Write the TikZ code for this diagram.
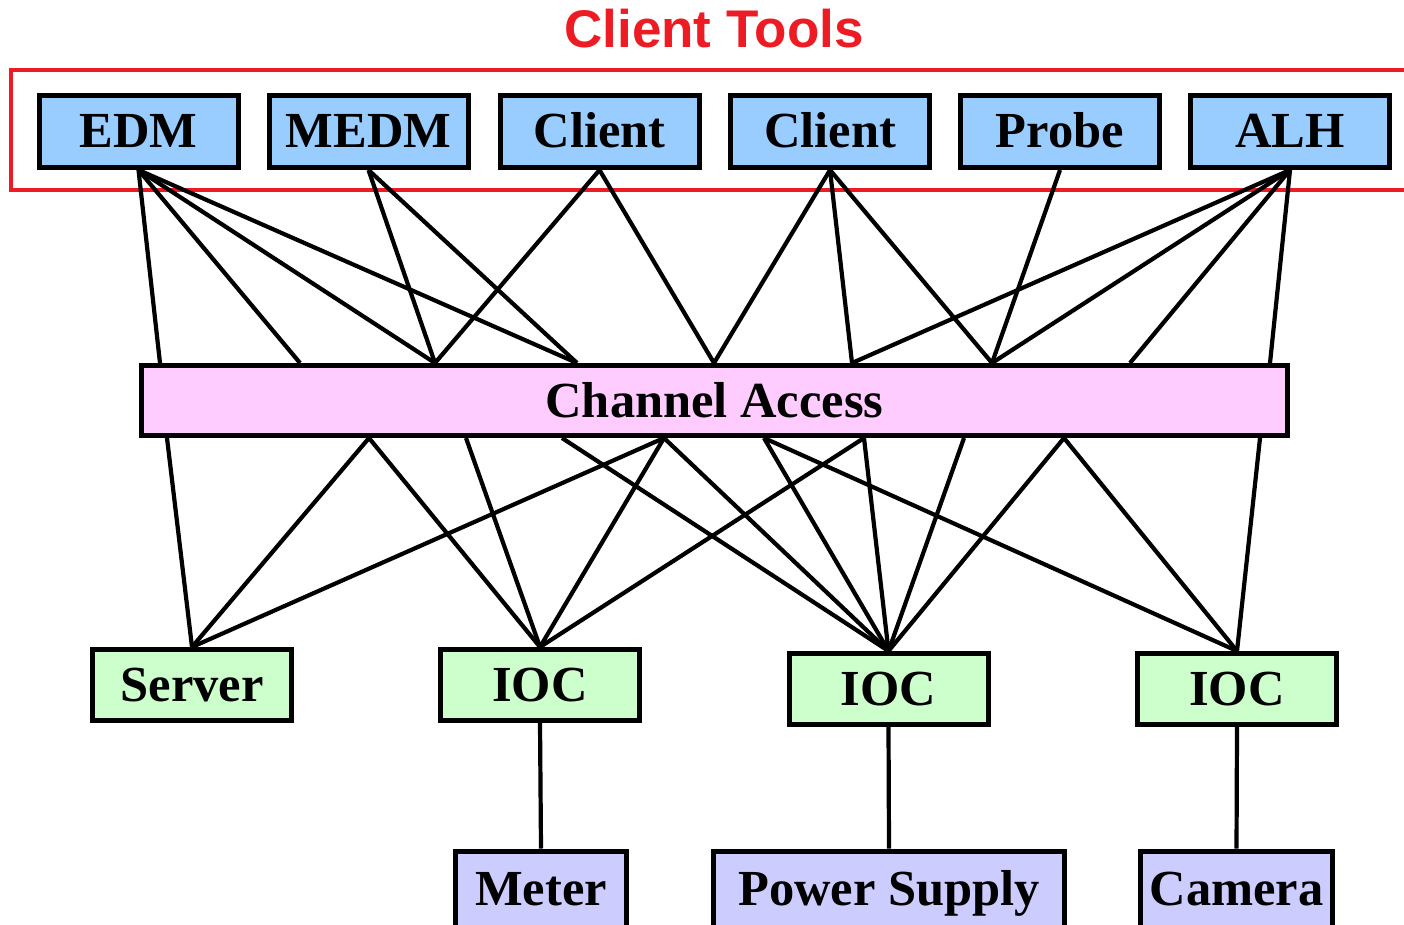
\documentclass[tikz,border=0pt]{standalone}
\usepackage{fontspec}
\setmainfont{Liberation Serif}
\newfontfamily\titlefont{Liberation Sans}
\definecolor{toolred}{HTML}{ED1C24}
\definecolor{toolblue}{HTML}{99CCFF}
\definecolor{capink}{HTML}{FFCCFF}
\definecolor{iocgreen}{HTML}{CCFFCC}
\definecolor{devlav}{HTML}{CCCCFF}
\begin{document}
\begin{tikzpicture}[x=1pt,y=-1pt,
  box/.style={draw=black,line width=5pt,inner sep=0pt,minimum height=71pt,
    text height=34pt,text depth=1pt,
    font=\fontsize{50.5}{58}\selectfont\bfseries},
  toolbox/.style={box,fill=toolblue,minimum width=199pt,minimum height=72pt},
  cabox/.style={box,fill=capink,minimum width=1146pt,minimum height=70pt},
  iocbox/.style={box,fill=iocgreen,minimum width=199pt},
  devbox/.style={box,fill=devlav,minimum height=76pt},
  link/.style={line width=4.2pt,draw=black}]
\useasboundingbox (0,0) rectangle (1404,925);
\begin{scope}
\clip (0,0) rectangle (1404,925);
% title and frame
\node[font=\titlefont\fontsize{53}{60}\selectfont\bfseries,text=toolred,inner sep=0pt] (title) at (714,29) {Client Tools};
\draw[toolred,line width=4pt] (11,70) rectangle (1420,190);
% top row
\node[toolbox] (edm) at (138.5,131.5) {EDM};
\node[toolbox] (medm) at (368.5,131.5) {MEDM};
\node[toolbox] (cl1) at (599.5,131.5) {Client};
\node[toolbox] (cl2) at (830,131.5) {Client};
\node[toolbox] (probe) at (1060,131.5) {Probe};
\node[toolbox] (alh) at (1290,131.5) {ALH};
% channel access
\node[cabox] (ca) at (714.5,400.5) {Channel Access};
% IOC row
\node[iocbox] (srv) at (192,685) {Server};
\node[iocbox] (ioc1) at (540,685) {IOC};
\node[iocbox] (ioc2) at (888.5,689) {IOC};
\node[iocbox] (ioc3) at (1237,689) {IOC};
% devices
\node[devbox,minimum width=171pt] (meter) at (541,889) {Meter};
\node[devbox,minimum width=351pt] (ps) at (889,889) {Power Supply};
\node[devbox,minimum width=192pt] (cam) at (1236.5,889) {Camera};
% attachment points on channel access
\foreach \n/\x in {a/160,b/300,c/435,d/577,e/714,f/852,g/992,h/1130,i/1270}
  \coordinate (t\n) at (\x,363);
\foreach \n/\x in {a/167,b/369,c/466,d/562,e/664,f/764,g/864,h/964,i/1064,j/1260}
  \coordinate (b\n) at (\x,438);
% client tools to channel access
\foreach \s/\t in {edm/ta,edm/tb,edm/tc,edm/td,medm/tc,medm/td,cl1/tc,cl1/te,
  cl2/te,cl2/tf,cl2/tg,probe/tg,alh/tf,alh/tg,alh/th,alh/ti}
  \draw[link] (\s.south) -- (\t);
% channel access to servers
\foreach \s/\t in {ba/srv,bb/srv,be/srv,bb/ioc1,bc/ioc1,be/ioc1,bg/ioc1,
  bd/ioc2,be/ioc2,bf/ioc2,bg/ioc2,bh/ioc2,bi/ioc2,bf/ioc3,bi/ioc3,bj/ioc3}
  \draw[link] (\s) -- (\t.north);
% IOCs to devices
\draw[link] (ioc1.south) -- (meter.north);
\draw[link] (ioc2.south) -- (ps.north);
\draw[link] (ioc3.south) -- (cam.north);
\end{scope}
\end{tikzpicture}
\end{document}
